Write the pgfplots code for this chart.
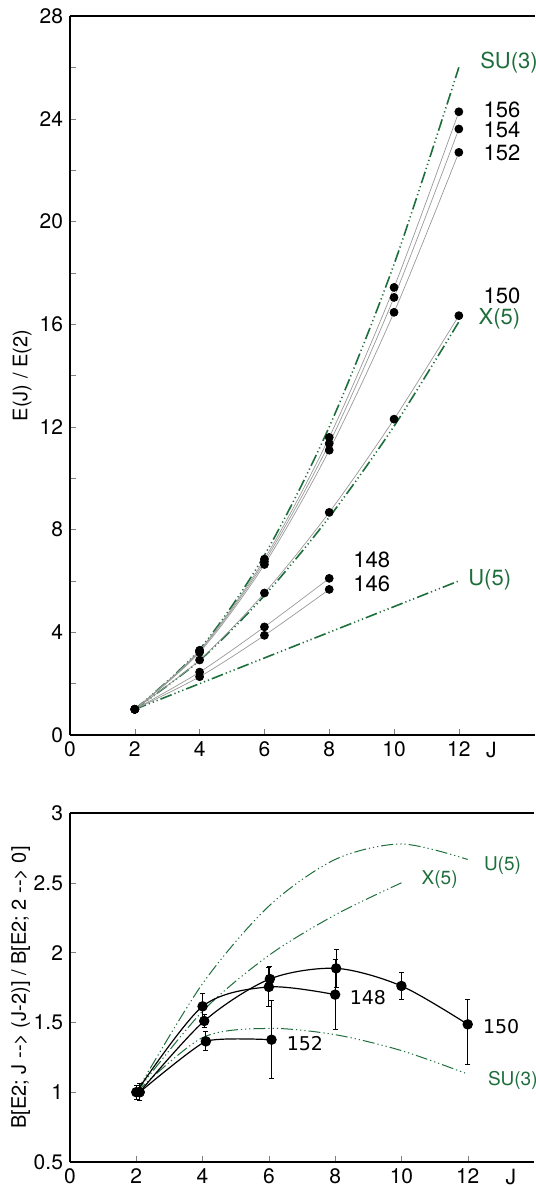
\documentclass[border=0pt]{standalone}
\usepackage{fontspec}
\setmainfont{TeX Gyre Heros}
\newfontfamily\dv{DejaVu Sans}
\usepackage{pgfplots}
\pgfplotsset{compat=1.18}
\definecolor{thgreen}{RGB}{30,110,60}

\pgfplotsset{
  base/.style={scale only axis, xmin=0, axis lines*=left, axis line style={-, line width=0.6pt},
    tick align=inside, major tick length=3pt, minor tick length=3pt,
    ticklabel style={font=\fontsize{10.5}{12}\selectfont},
    label style={font=\fontsize{10}{12}\selectfont},
    /pgf/number format/assume math mode=true, clip=false,
    xtick={0,2,...,12},
    extra x tick style={major tick length=0pt}},
  exp/.style={gray!80, line width=0.35pt, smooth, mark=*, mark size=2pt, mark options={black, fill=black}},
  th/.style={thgreen, no markers, dash pattern=on 6pt off 1.5pt on 0.6pt off 1.5pt on 0.6pt off 1.5pt on 0.6pt off 1.5pt},
}
\tikzset{lbl/.style={anchor=west, inner sep=0pt, font=\fontsize{11}{13}\selectfont}}

\begin{document}
\begin{tikzpicture}
\path[use as bounding box] (-35pt,-225.5pt) rectangle (232.5pt,367.5pt);

% E(J)/E(2)
\begin{axis}[base, at={(0,0)}, anchor=south west, width=232.5pt, height=359.5pt,
  xmax=14.35, ymin=0, ymax=28, ytick={0,4,...,28}, minor y tick num=1,
  extra x ticks={13}, extra x tick labels={J},
  ylabel={E(J) / E(2)},
  ylabel style={at={(axis description cs:-0.103,0.5)}, anchor=center}]
\addplot[th, line width=0.8pt, smooth] coordinates {(2,1) (4,3.333) (6,7) (8,12) (10,18.333) (12,26)};
\addplot[th, line width=0.8pt, smooth] coordinates {(2,1) (4,2.904) (6,5.43) (8,8.483) (10,12.027) (12,16.09)};
\addplot[th, line width=0.8pt] coordinates {(2,1) (4,2) (6,3) (8,4) (10,5) (12,6)};
\addplot[exp] coordinates {(2,1) (4,3.30) (6,6.85) (8,11.59) (10,17.43) (12,24.27)};
\addplot[exp] coordinates {(2,1) (4,3.27) (6,6.75) (8,11.35) (10,17.04) (12,23.60)};
\addplot[exp] coordinates {(2,1) (4,3.22) (6,6.64) (8,11.09) (10,16.46) (12,22.69)};
\addplot[exp] coordinates {(2,1) (4,2.92) (6,5.53) (8,8.67) (10,12.30) (12,16.33)};
\addplot[exp] coordinates {(2,1) (4,2.45) (6,4.21) (8,6.10)};
\addplot[exp] coordinates {(2,1) (4,2.27) (6,3.88) (8,5.67)};
\draw[line width=0.6pt] (rel axis cs:0,1) -- (rel axis cs:1,1);
\node[lbl, thgreen] at (axis cs:12.65,26.2) {SU(3)};
\node[lbl] at (axis cs:12.75,24.34) {156};
\node[lbl] at (axis cs:12.75,23.56) {154};
\node[lbl] at (axis cs:12.75,22.66) {152};
\node[lbl] at (axis cs:12.75,17.12) {150};
\node[lbl, thgreen] at (axis cs:12.6,16.2) {X(5)};
\node[lbl] at (axis cs:8.73,6.81) {148};
\node[lbl] at (axis cs:8.73,5.88) {146};
\node[lbl, thgreen] at (axis cs:12.28,6.04) {U(5)};
\end{axis}

% B(E2) ratios
\begin{axis}[base, at={(0,-39pt)}, anchor=north west, width=232pt, height=174.5pt,
  xmax=14.0, ymin=0.5, ymax=3, ytick={0.5,1,...,3},
  extra x ticks={13.3}, extra x tick labels={J},
  ylabel={B[E2; J {-}{-}> (J-2)] / B[E2; 2 {-}{-}> 0]},
  ylabel style={at={(axis description cs:-0.106,0.5)}, anchor=center}]
\addplot[th, line width=0.5pt, smooth] coordinates {(2,1) (4,1.778) (6,2.333) (8,2.667) (10,2.778) (12,2.667)};
\addplot[th, line width=0.5pt, smooth] coordinates {(2,1) (4,1.58) (6,1.98) (8,2.27) (10,2.50)};
\addplot[th, line width=0.5pt, smooth] coordinates {(2,1) (4,1.391) (6,1.457) (8,1.412) (10,1.298) (12,1.130)};
\addplot[black, line width=0.6pt, smooth, mark=*, mark size=2.3pt, mark options={fill=black},
  error bars/.cd, y dir=both, y explicit, error bar style={line width=0.5pt},
  error mark options={rotate=90, mark size=1.2pt, line width=0.5pt}]
  coordinates {(2,1.0) +- (0,0.05) (4,1.615) +- (0,0.09) (6,1.754) +- (0,0.14) (8,1.699) +- (0,0.25)};
\addplot[black, line width=0.6pt, smooth, mark=*, mark size=2.3pt, mark options={fill=black},
  error bars/.cd, y dir=both, y explicit, error bar style={line width=0.5pt},
  error mark options={rotate=90, mark size=1.2pt, line width=0.5pt}]
  coordinates {(2.1,1.0) +- (0,0.06) (4.05,1.510) +- (0,0.05) (6.03,1.811) +- (0,0.086)
    (8.03,1.887) +- (0,0.134) (10,1.761) +- (0,0.10) (12,1.486) += (0,0.177) -= (0,0.286)};
\addplot[black, line width=0.6pt, smooth, tension=0.3, mark=*, mark size=2.3pt, mark options={fill=black},
  error bars/.cd, y dir=both, y explicit, error bar style={line width=0.5pt},
  error mark options={rotate=90, mark size=1.2pt, line width=0.5pt}]
  coordinates {(2.1,1.0) +- (0,0.06) (4.1,1.364) +- (0,0.068) (6.08,1.376) +- (0,0.28)};
\draw[line width=0.6pt] (rel axis cs:0,1) -- (rel axis cs:1,1);
\node[lbl, thgreen, font=\fontsize{9.5}{11}\selectfont] at (axis cs:12.48,2.625) {U(5)};
\node[lbl, thgreen, font=\fontsize{9.5}{11}\selectfont] at (axis cs:10.6,2.52) {X(5)};
\node[lbl, thgreen, font=\fontsize{9.5}{11}\selectfont] at (axis cs:12.6,1.085) {SU(3)};
\node[lbl, font=\dv\fontsize{9.5}{11}\selectfont] at (axis cs:8.43,1.678) {148};
\node[lbl, font=\dv\fontsize{9.5}{11}\selectfont] at (axis cs:6.53,1.348) {152};
\node[lbl, font=\dv\fontsize{9.5}{11}\selectfont] at (axis cs:12.45,1.467) {150};
\end{axis}
\end{tikzpicture}
\end{document}
